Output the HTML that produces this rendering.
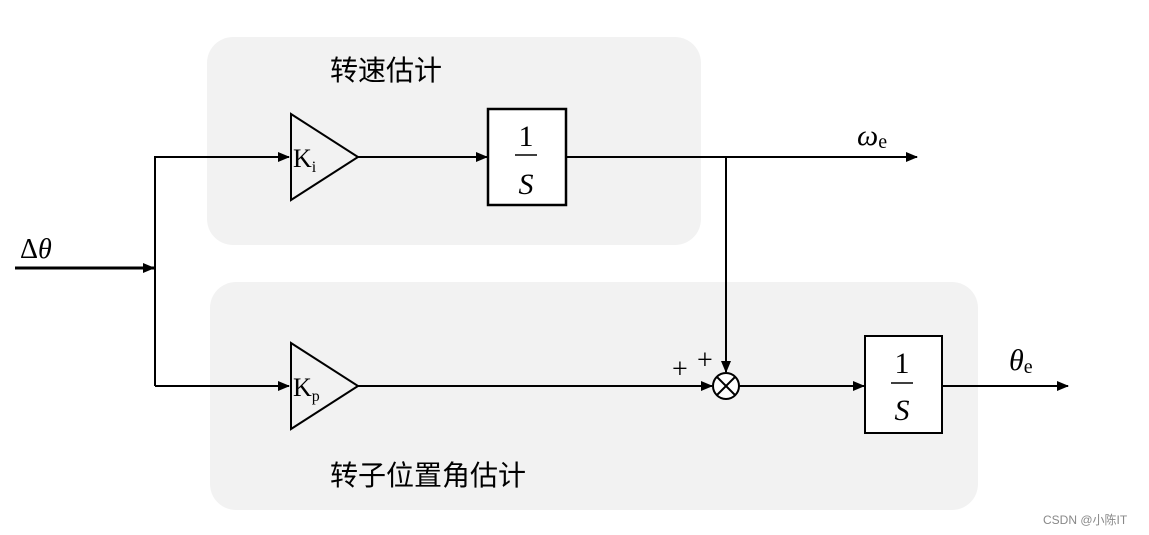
<!DOCTYPE html>
<html><head><meta charset="utf-8"><style>
html,body{margin:0;padding:0;background:#fff;}
svg{display:block;}
</style></head><body>
<svg width="1149" height="535" viewBox="0 0 1149 535" xmlns="http://www.w3.org/2000/svg">
<defs>
<marker id="a" markerWidth="12" markerHeight="10" refX="11" refY="5" orient="auto" markerUnits="userSpaceOnUse">
<path d="M0,0 L12,5 L0,10 Z" fill="#000"/></marker>
</defs>
<rect x="207" y="37" width="494" height="208" rx="26" fill="#f2f2f2"/>
<rect x="210" y="282" width="768" height="228" rx="26" fill="#f2f2f2"/>
<g font-family="'Liberation Serif','Noto Serif CJK SC',serif" fill="#000">
<text x="330" y="80" font-size="28" font-family="'Noto Sans CJK SC',sans-serif">转速估计</text>
<text x="330" y="485" font-size="28" font-family="'Noto Sans CJK SC',sans-serif">转子位置角估计</text>
</g>
<g stroke="#000" stroke-width="2" fill="none">
<line x1="15" y1="268" x2="154" y2="268" stroke-width="3" marker-end="url(#a)"/>
<polyline points="155,386 155,157 289,157" marker-end="url(#a)"/>
<line x1="155" y1="386" x2="289" y2="386" marker-end="url(#a)"/>
<polygon points="291,114 358,157 291,200" fill="none"/>
<polygon points="291,343 358,386 291,429" fill="none"/>
<line x1="358" y1="157" x2="487" y2="157" marker-end="url(#a)"/>
<rect x="488" y="109" width="78" height="96" stroke-width="2.5" fill="#fff"/>
<line x1="566" y1="157" x2="917" y2="157" marker-end="url(#a)"/>
<line x1="726" y1="157" x2="726" y2="372" marker-end="url(#a)"/>
<line x1="358" y1="386" x2="712" y2="386" marker-end="url(#a)"/>
<circle cx="726" cy="386" r="13" fill="#fff"/>
<line x1="717" y1="377" x2="735" y2="395"/>
<line x1="735" y1="377" x2="717" y2="395"/>
<line x1="739" y1="386" x2="864" y2="386" marker-end="url(#a)"/>
<rect x="865" y="336" width="77" height="97" fill="#fff"/>
<line x1="942" y1="386" x2="1068" y2="386" marker-end="url(#a)"/>
<line x1="515" y1="155" x2="537" y2="155" stroke-width="1.5"/>
<line x1="891" y1="383" x2="913" y2="383" stroke-width="1.5"/>
</g>
<g font-family="'Liberation Serif',serif" fill="#000">
<text x="293" y="167" font-size="26">K<tspan font-size="16" dy="5">i</tspan></text>
<text x="293" y="396" font-size="26">K<tspan font-size="16" dy="5">p</tspan></text>
<text x="526" y="146" font-size="30" text-anchor="middle">1</text>
<text x="526" y="194" font-size="30" font-style="italic" text-anchor="middle">S</text>
<text x="902" y="373" font-size="30" text-anchor="middle">1</text>
<text x="902" y="420" font-size="30" font-style="italic" text-anchor="middle">S</text>
<text x="857" y="145" font-size="30" font-style="italic">ω<tspan font-style="normal" font-size="20" dy="3">e</tspan></text>
<text x="1009" y="370" font-size="30" font-style="italic">θ<tspan font-style="normal" font-size="20" dy="3">e</tspan></text>
<text x="20" y="258" font-size="28">Δ<tspan font-style="italic">θ</tspan></text>
<text x="672" y="378" font-size="28">+</text>
<text x="697" y="369" font-size="28">+</text>
</g>
<text x="1043" y="524" font-size="12" fill="#888" font-family="'Liberation Sans','Noto Sans CJK SC',sans-serif">CSDN @小陈IT</text>
</svg>
</body></html>
